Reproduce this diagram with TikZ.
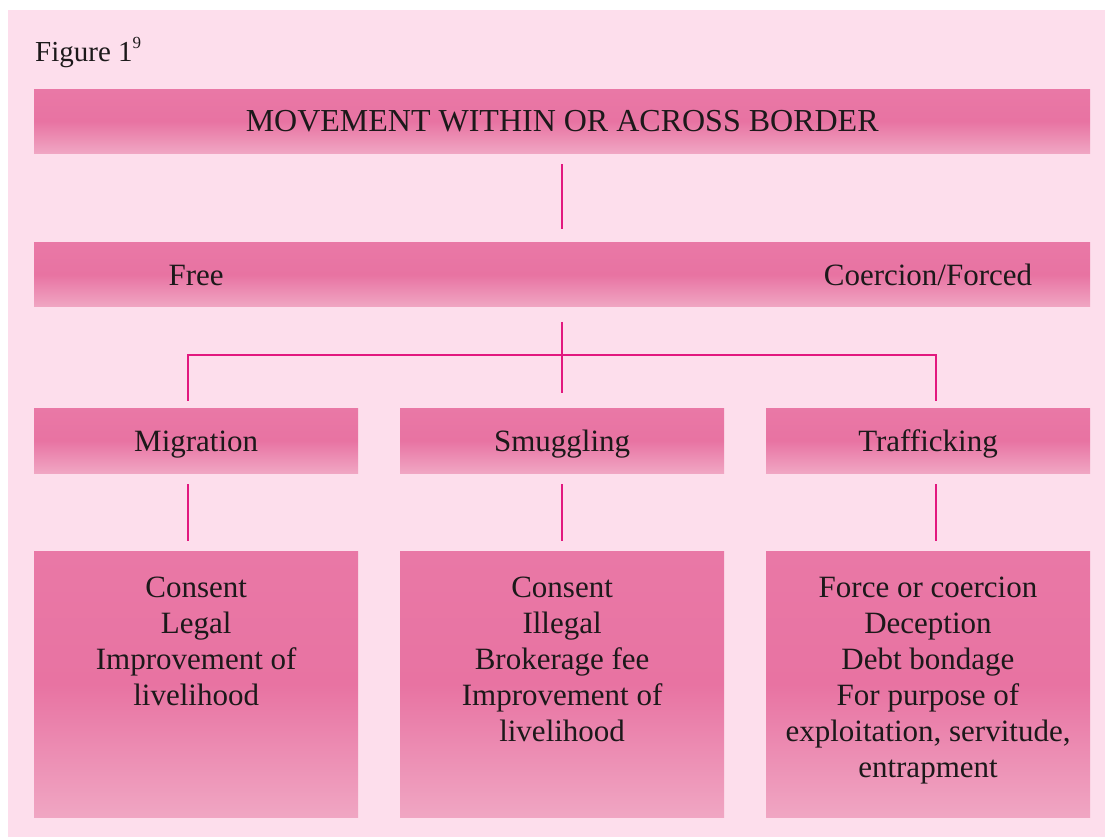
\documentclass[tikz,border=0pt]{standalone}
\usepackage{fontspec}
\setmainfont{Liberation Serif}
\usetikzlibrary{positioning, calc}

\definecolor{pagepink}{HTML}{FDDEEC}
\definecolor{boxtop}{HTML}{E978A6}
\definecolor{boxmid}{HTML}{E873A2}
\definecolor{boxbot}{HTML}{F0A6C3}
\definecolor{linkpink}{HTML}{E2187F}
\definecolor{inkgray}{HTML}{1C191A}

\begin{document}
\begin{tikzpicture}[
    x=1pt, y=-1pt,
    bar/.style={rectangle, minimum width=1056pt, minimum height=64pt, inner sep=0pt, top color=boxtop, bottom color=boxbot, middle color=boxmid, text=inkgray, font=\fontsize{32}{36}\selectfont, text height=21pt, text depth=0pt},
    kind/.style={bar, minimum width=324pt, minimum height=65pt, font=\fontsize{31}{36}\selectfont},
    detail/.style={rectangle, minimum width=324pt, minimum height=266pt, inner sep=0pt, top color=boxtop, bottom color=boxbot, middle color=boxmid},
    bartext/.style={text=inkgray, font=\fontsize{31}{36}\selectfont, inner sep=0pt, text height=21pt, text depth=0pt},
    points/.style={text=inkgray, font=\fontsize{31}{36}\selectfont, align=center, inner sep=0pt, anchor=north},
    link/.style={draw=linkpink, line width=2pt}
]

\useasboundingbox (0,0) rectangle (1105,837);
\fill[pagepink] (8,10) rectangle (1105,837);

\node[anchor=base west, inner sep=0pt, text=inkgray, font=\fontsize{29}{34}\selectfont] (figtitle) at (35,62) {Figure 1\raisebox{13pt}{\fontsize{17}{17}\selectfont 9}};

\node[bar, anchor=north west] (movement) at (34,89) {MOVEMENT WITHIN OR ACROSS BORDER};
\node[bar, below=89pt of movement] (choice) {};
\node[kind, below right=101pt and 0pt of choice.south west] (migration) {Migration};
\node[kind, right=41.5pt of migration] (smuggling) {Smuggling};
\node[kind, right=41.5pt of smuggling] (trafficking) {Trafficking};
\node[detail, below=78pt of migration] (migration_pts) {};
\node[detail, below=78pt of smuggling] (smuggling_pts) {};
\node[detail, below=78pt of trafficking] (trafficking_pts) {};

\node[bartext] (free) at (choice.center -| migration.center) {Free};
\node[bartext] (forced) at (choice.center -| trafficking.center) {Coercion/Forced};

\node[points] (migration_txt) at ($(migration_pts.north)+(0,26)$) {Consent\\Legal\\Improvement of\\livelihood};
\node[points] (smuggling_txt) at ($(smuggling_pts.north)+(0,26)$) {Consent\\Illegal\\Brokerage fee\\Improvement of\\livelihood};
\node[points] (trafficking_txt) at ($(trafficking_pts.north)+(0,26)$) {Force or coercion\\Deception\\Debt bondage\\For purpose of\\exploitation, servitude,\\entrapment};

% Connectors
\coordinate (fork) at ($(choice.south)+(0,48)$);
\coordinate (migration_drop) at ($(migration.north)+(-8,0)$);
\coordinate (trafficking_drop) at ($(trafficking.north)+(8,0)$);
\draw[link, shorten <=11pt, shorten >=13pt] (movement.south) -- (choice.north);
\draw[link, shorten <=15pt, shorten >=15pt] (choice.south) -- (choice.south |- smuggling.north);
\draw[link, shorten <=7pt, shorten >=7pt] (migration_drop) |- (fork) -| (trafficking_drop);
\draw[link, shorten <=11pt, shorten >=10pt] ($(migration.south)+(-8,0)$) -- ($(migration_pts.north)+(-8,0)$);
\draw[link, shorten <=11pt, shorten >=10pt] (smuggling.south) -- (smuggling_pts.north);
\draw[link, shorten <=11pt, shorten >=10pt] ($(trafficking.south)+(8,0)$) -- ($(trafficking_pts.north)+(8,0)$);

\end{tikzpicture}
\end{document}
